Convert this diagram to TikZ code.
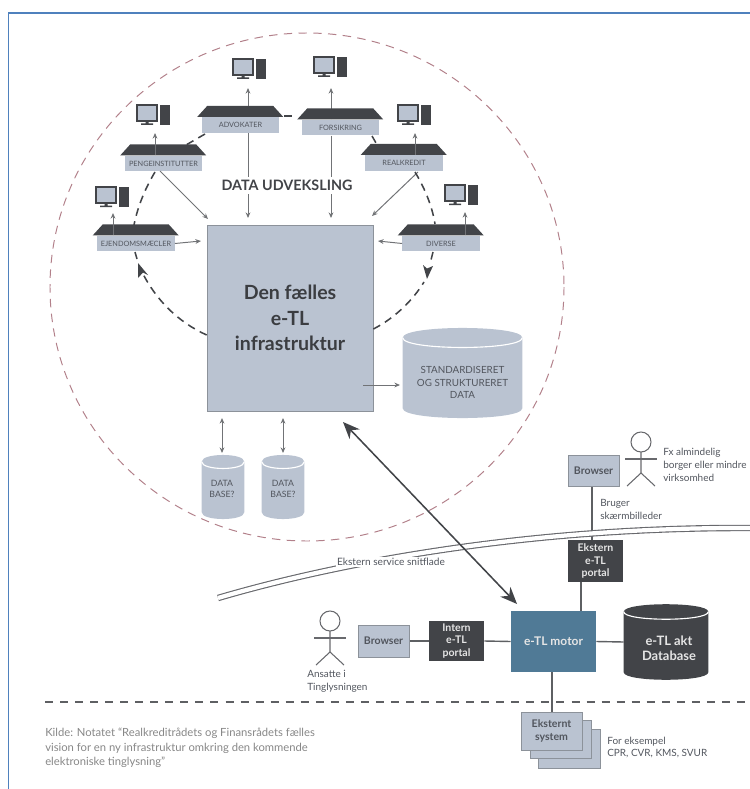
\documentclass[tikz,border=0pt]{standalone}
\usepackage{fontspec}
\setmainfont{Lato}
\usetikzlibrary{arrows.meta,backgrounds}
\definecolor{etlframe}{RGB}{79, 129, 189}
\definecolor{etlring}{RGB}{178, 128, 138}
\definecolor{etlgrey}{RGB}{186, 195, 209}
\definecolor{etledge}{RGB}{140, 146, 154}
\definecolor{etldark}{RGB}{66, 68, 72}
\definecolor{etlblue}{RGB}{80, 122, 150}
\definecolor{etltext}{RGB}{82, 86, 94}
\definecolor{etlnote}{RGB}{135, 135, 135}

\tikzset{
  housebox/.style={fill=etlgrey, text=etltext, minimum width=19.3mm, minimum height=3.9mm,
    inner sep=0pt, font=\fontsize{5.2}{6}\selectfont},
  greybox/.style={fill=etlgrey, draw=etledge, line width=.5pt, text=etltext, inner sep=0pt,
    align=center, font=\fontsize{7.5}{9.2}\bfseries\selectfont},
  darkbox/.style={fill=etldark, text=white!90!black, inner sep=0pt, align=center,
    font=\fontsize{7.5}{9.2}\bfseries\selectfont},
  drumbody/.style={inner sep=0pt},
  drumtext/.style={inner sep=0pt, align=center, text=etltext},
  note/.style={inner sep=0pt, align=left, text=etltext, anchor=west,
    font=\fontsize{7.1}{9.2}\selectfont},
  thin arrow/.style={draw=etldark!75, line width=.7pt, -{Stealth[length=4pt,width=3.4pt]}},
  both arrow/.style={draw=etldark!75, line width=.7pt, {Stealth[length=4pt,width=3.4pt]}-{Stealth[length=4pt,width=3.4pt]}},
  link/.style={draw=etldark!85, line width=1pt},
  circuit/.style={draw=etldark, line width=1.1pt, dash pattern=on 5.5pt off 4pt}
}

% roof on top of a house box
\newcommand{\roof}[1]{
  \fill[etldark] ([xshift=-1.1mm]#1.north west) -- +(10,-11) -- +(76,-11) -- +(86,0) -- cycle;
}
% monitor and tower, upper left corner at #1,#2
\newcommand{\computer}[2]{
  \begin{scope}[shift={(#1,#2)}]
    \filldraw[fill=etlgrey, draw=etldark, line width=1pt] (0,0) rectangle (20,16);
    \fill[etldark] (8.5,16) rectangle (11.5,18.5) (4,18.5) rectangle (16,20);
    \fill[etldark] (23,0) rectangle (33,20);
  \end{scope}
}
% drum round an empty node, bulge #3
\newcommand{\drum}[3]{
  \begin{pgfonlayer}{background}
    \fill[#2] (#1.north west) .. controls +(0,-#3) and +(0,-#3) .. (#1.north east)
      -- (#1.south east) .. controls +(0,#3) and +(0,#3) .. (#1.south west) -- cycle;
    \draw[white, line width=.8pt] (#1.north west) .. controls +(0,#3) and +(0,#3) .. (#1.north east);
  \end{pgfonlayer}
}
% stick figure, head centre at #1,#2
\newcommand{\stickman}[2]{
  \begin{scope}[shift={(#1,#2)}, draw=etldark!80, line width=.75pt]
    \draw (0,0) circle[radius=10];
    \draw (-16,17) -- (16,17);
    \draw (0,10) -- (0,31) -- (-14,44);
    \draw (0,31) -- (14,44);
  \end{scope}
}

\begin{document}
\begin{tikzpicture}[x=.25mm, y=-.25mm]
  \useasboundingbox (0,0) rectangle (750,789);

  % frame and ring
  \draw[etlframe, line width=1.4pt] (8.5,789) -- (8.5,13) -- (750,13);
  \draw[etlring, line width=.7pt, dash pattern=on 6pt off 4.5pt] (307,287) ellipse [x radius=257, y radius=254];

  % houses
  \node[housebox] (ADV) at (240.5,125) {ADVOKATER};
  \node[housebox] (FOR) at (340.5,127.5) {FORSIKRING};
  \node[housebox] (REA) at (404,163) {REALKREDIT};
  \node[housebox] (PEN) at (163.5,163.5) {PENGEINSTITUTTER};
  \node[housebox] (EJD) at (136,243.5) {EJENDOMSMÆCLER};
  \node[housebox] (DIV) at (441,243.5) {DIVERSE};
  \roof{ADV}
  \roof{FOR}
  \roof{REA}
  \roof{PEN}
  \roof{EJD}
  \roof{DIV}

  \computer{233}{59}
  \computer{314}{57}
  \computer{398}{105}
  \computer{137}{105}
  \computer{96}{187}
  \computer{445}{185}

  % core and stores
  \node[greybox, minimum width=41.5mm, minimum height=46.5mm, text=etldark!90!black,
    font=\fontsize{13.9}{18.2}\bfseries\selectfont] (INFRA) at (290,318) {Den fælles\\e-TL\\infrastruktur};
  \node[drumbody, minimum width=29.75mm, minimum height=17.5mm] (STD) at (462.5,373) {};
  \drum{STD}{etlgrey}{13}
  \node[drumtext, font=\fontsize{7}{9}\selectfont] (STDtxt) at (462.5,382.5) {STANDARDISERET\\OG STRUKTURERET\\DATA};
  \node[drumbody, minimum width=10.5mm, minimum height=12.5mm] (DB1) at (223,487) {};
  \drum{DB1}{etlgrey}{9}
  \node[drumtext, font=\fontsize{6.2}{7.3}\selectfont] (DB1txt) at (222,489) {DATA\\BASE?};
  \node[drumbody, minimum width=10.5mm, minimum height=12.5mm] (DB2) at (283,487) {};
  \drum{DB2}{etlgrey}{9}
  \node[drumtext, font=\fontsize{6.2}{7.3}\selectfont] (DB2txt) at (283,489) {DATA\\BASE?};
  \node[fill=white, inner sep=2pt, text=etldark, font=\fontsize{10.2}{12}\bfseries\selectfont] (UDV) at (287,185.5) {DATA UDVEKSLING};

  % data exchange
  \coordinate (C1) at (248,88);
  \coordinate (C2) at (331,88);
  \coordinate (C3) at (155,133);
  \coordinate (C4) at (415,133);
  \coordinate (C5) at (113,213);
  \coordinate (C6) at (465,212);
  \coordinate (D1) at (248,218);
  \coordinate (D2) at (331,218);
  \coordinate (D3) at (208,219);
  \coordinate (D4) at (372,216);
  \coordinate (D5) at (201,241);
  \coordinate (D6) at (378,241);
  \coordinate (D7) at (160,171);
  \coordinate (D8) at (418,172);
  \begin{pgfonlayer}{background}
    \draw[thin arrow] (C1 |- ADV.north) -- (C1);
    \draw[thin arrow] (C2 |- FOR.north) -- (C2);
    \draw[thin arrow] (C1 |- ADV.south) -- (D1);
    \draw[thin arrow] (C2 |- FOR.south) -- (D2);
  \end{pgfonlayer}
  \draw[thin arrow] (C3 |- PEN.north) -- (C3);
  \draw[thin arrow] (C4 |- REA.north) -- (C4);
  \draw[thin arrow] (C5 |- EJD.north) -- (C5);
  \draw[thin arrow] (C6 |- DIV.north) -- (C6);
  \draw[thin arrow] (D7) -- (D3);
  \draw[thin arrow] (D8) -- (D4);
  \draw[thin arrow] (EJD.east) -- (D5);
  \draw[thin arrow] (DIV.west) -- (D6);

  % dashed circuit
  \draw[circuit] (284,116) -- (297,116);
  \draw[circuit] (205,134) -- (186,145);
  \draw[circuit] (372,136) -- (376,143);
  \draw[circuit] (155,172) .. controls (146,187) and (138,205) .. (134,225);
  \draw[circuit] (415,172) .. controls (424,187) and (432,205) .. (435,224);
  \draw[circuit] (135,252) -- (137,259);
  \draw[circuit] (INFRA.west |- 0,335) .. controls (178,322) and (156,300) .. (142,272);
  \draw[circuit] (433,252) -- (430,264);
  \draw[circuit] (INFRA.east |- 0,329) .. controls (395,318) and (413,300) .. (424,282);
  \fill[etldark] (138,263) -- (148,275) -- (143,272.5) -- (138,278) -- cycle;
  \fill[etldark] (427,279) -- (423,265) -- (427,268.5) -- (433,266) -- cycle;

  % stores
  \coordinate (S1) at (363,385);
  \coordinate (S2) at (400,385);
  \coordinate (T1) at (222,418);
  \coordinate (T2) at (222,453);
  \coordinate (T3) at (283,418);
  \coordinate (T4) at (283,453);
  \draw[thin arrow] (S1) -- (S2);
  \draw[both arrow] (T1) -- (T2);
  \draw[both arrow] (T3) -- (T4);

  % service boundary
  \draw[etldark!80, line width=.8pt, double=white, double distance=3pt]
    (218,598) .. controls (330,565) and (520,527) .. (750,528);
  \node[fill=white, inner sep=1pt, text=etltext, font=\fontsize{7.2}{8}\selectfont] (SNIT) at (391,562) {Ekstern service snitflade};

  % lower nodes
  \node[greybox, minimum width=12.75mm, minimum height=7.8mm] (BR1) at (593.5,470.5) {Browser};
  \node[darkbox, minimum width=13.75mm, minimum height=10.5mm] (EXT) at (595.5,561) {Ekstern\\e-TL\\portal};
  \node[fill=etlblue, text=white!90!black, minimum width=21.25mm, minimum height=15.25mm, inner sep=0pt,
    font=\fontsize{8.5}{10}\bfseries\selectfont] (MOTOR) at (553.5,641.5) {e-TL motor};
  \node[drumbody, minimum width=21mm, minimum height=15mm] (AKT) at (666,642) {};
  \drum{AKT}{etldark}{10}
  \node[drumtext, text=white!90!black, font=\fontsize{9.2}{11}\bfseries\selectfont] (AKTtxt) at (669,648) {e-TL akt\\Database};
  \node[darkbox, minimum width=13.75mm, minimum height=10mm] (INT) at (456.5,641) {Intern\\e-TL\\portal};
  \node[greybox, minimum width=12.75mm, minimum height=8mm] (BR2) at (383.5,641) {Browser};

  \node[draw=etledge, fill=etlgrey, minimum width=15.5mm, minimum height=9.75mm] (STK3) at (569,748.5) {};
  \node[draw=etledge, fill=etlgrey, minimum width=15.25mm, minimum height=9.5mm] (STK2) at (560.5,739) {};
  \node[greybox, minimum width=15.25mm, minimum height=9.5mm] (STK1) at (551.5,731) {Eksternt\\system};

  % lower links
  \coordinate (L1) at (592,486);
  \coordinate (L2) at (581,582);
  \coordinate (L3) at (552,672);
  \begin{pgfonlayer}{background}
    \draw[link] (L1) -- (L1 |- EXT.north);
    \draw[link] (L2) -- (L2 |- MOTOR.north);
    \draw[link] (MOTOR.east) -- (AKT.west);
    \draw[link] (BR2.east) -- (INT.west);
    \draw[link] (INT.east) -- (MOTOR.west);
    \draw[link] (L3) -- (L3 |- STK1.north);
  \end{pgfonlayer}
  \coordinate (M1) at (343,422);
  \coordinate (M2) at (517,604);
  \draw[draw=etldark, line width=1.1pt, {Stealth[length=12pt,width=10pt]}-{Stealth[length=12pt,width=10pt]}] (M1) -- (M2);
  \coordinate (H1) at (45,702);
  \coordinate (H2) at (750,702);
  \draw[etldark!85, line width=.8pt, dash pattern=on 5.7pt off 5pt] (H1) -- (H2);

  % people and notes
  \stickman{641}{442}
  \stickman{330}{621}
  \node[note] (FX) at (663,465) {Fx almindelig\\borger eller mindre\\virksomhed};
  \node[note] (BRU) at (600,509.5) {Bruger\\skærmbilleder};
  \node[note] (ANS) at (307,681.5) {Ansatte i\\Tinglysningen};
  \node[note] (EKS) at (607,747.5) {For eksempel\\CPR, CVR, KMS, SVUR};
  \node[note, text=etlnote, font=\fontsize{8}{10.3}\selectfont] (KILDE) at (45,748) {Kilde: Notatet “Realkreditrådets og Finansrådets fælles\\vision for en ny infrastruktur omkring den kommende\\elektroniske tinglysning”};
\end{tikzpicture}
\end{document}
